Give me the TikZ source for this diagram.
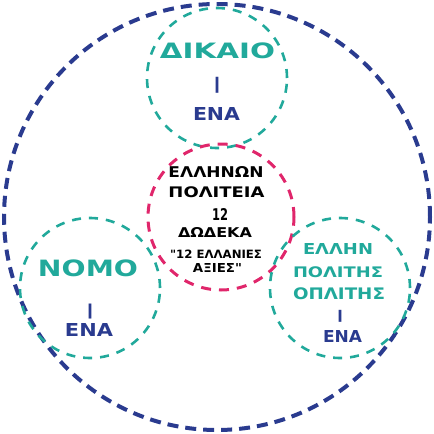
\documentclass[tikz,border=0pt]{standalone}
\usepackage{fontspec}
\usepackage{graphicx}
\setmainfont{DejaVu Sans}
\font\qfnt="DejaVu Sans/B" at 10pt
\definecolor{teal1}{HTML}{21A99B}
\definecolor{navy1}{HTML}{2A3B8F}
\definecolor{mag1}{HTML}{E0266B}
\newcommand{\fitt}[3]{\resizebox*{#1pt}{#2pt}{#3}}
\newcommand{\barfit}[1]{\resizebox*{9pt}{#1pt}{\qfnt |}}
\newcommand{\qq}{{\qfnt "}}
\tikzset{
  ring/.style={circle, inner sep=0pt, outer sep=0pt},
  bigring/.style={ring, draw=navy1, line width=4pt, dash pattern=on 11pt off 7pt},
  tealring/.style={ring, draw=teal1, line width=2.6pt, dash pattern=on 9pt off 8pt},
  magring/.style={ring, draw=mag1, line width=3pt, dash pattern=on 10pt off 8pt},
  txt/.style={inner sep=0pt, font=\bfseries},
}
\begin{document}
\begin{tikzpicture}[x=1pt,y=-1pt]
\useasboundingbox (0,0) rectangle (434,434);
% circles
\node[bigring, minimum size=426pt] (big) at (217,217) {};
\node[tealring, minimum size=140pt] (ctop) at (217,78) {};
\node[magring, minimum size=146pt] (cmid) at (221,217) {};
\node[tealring, minimum size=140pt] (cleft) at (90,288) {};
\node[tealring, minimum size=140pt] (cright) at (340,288) {};
% top texts
\node[txt, text=teal1] (tA) at (217.5,51) {\fitt{115}{16}{ΔΙΚΑΙΟ}};
\node[txt, text=navy1] (tB) at (217,85) {\barfit{16}};
\node[txt, text=navy1] (tC) at (216.5,113.5) {\fitt{47}{13}{ΕΝΑ}};
% centre texts
\node[txt, text=black] (m1) at (216,172) {\fitt{95}{11}{ΕΛΛΗΝΩΝ}};
\node[txt, text=black] (m2) at (216.5,192.5) {\fitt{96}{11}{ΠΟΛΙΤΕΙΑ}};
\node[txt, text=black] (m3) at (220,214) {\fitt{16}{12}{12}};
\node[txt, text=black] (m4) at (215,232) {\fitt{74}{10}{ΔΩΔΕΚΑ}};
\node[txt, text=black] (m5) at (216,254) {\fitt{92}{8.5}{\qq12 ΕΛΛΑΝΙΕΣ}};
\node[txt, text=black] (m6) at (217.5,268) {\fitt{49}{9}{ΑΞΙΕΣ\qq}};
% left texts
\node[txt, text=teal1] (l1) at (88,268.5) {\fitt{100}{17}{ΝΟΜΟ}};
\node[txt, text=navy1] (l2) at (90,311.5) {\barfit{15}};
\node[txt, text=navy1] (l3) at (89,330) {\fitt{48}{13}{ΕΝΑ}};
% right texts
\node[txt, text=teal1] (r1) at (338,248.5) {\fitt{70}{11}{ΕΛΛΗΝ}};
\node[txt, text=teal1] (r2) at (338,272.5) {\fitt{90}{11}{ΠΟΛΙΤΗΣ}};
\node[txt, text=teal1] (r3) at (339,294) {\fitt{92}{12}{ΟΠΛΙΤΗΣ}};
\node[txt, text=navy1] (r4) at (340,316) {\barfit{12}};
\node[txt, text=navy1] (r5) at (342.5,336) {\fitt{39}{12}{ΕΝΑ}};
\end{tikzpicture}
\end{document}
